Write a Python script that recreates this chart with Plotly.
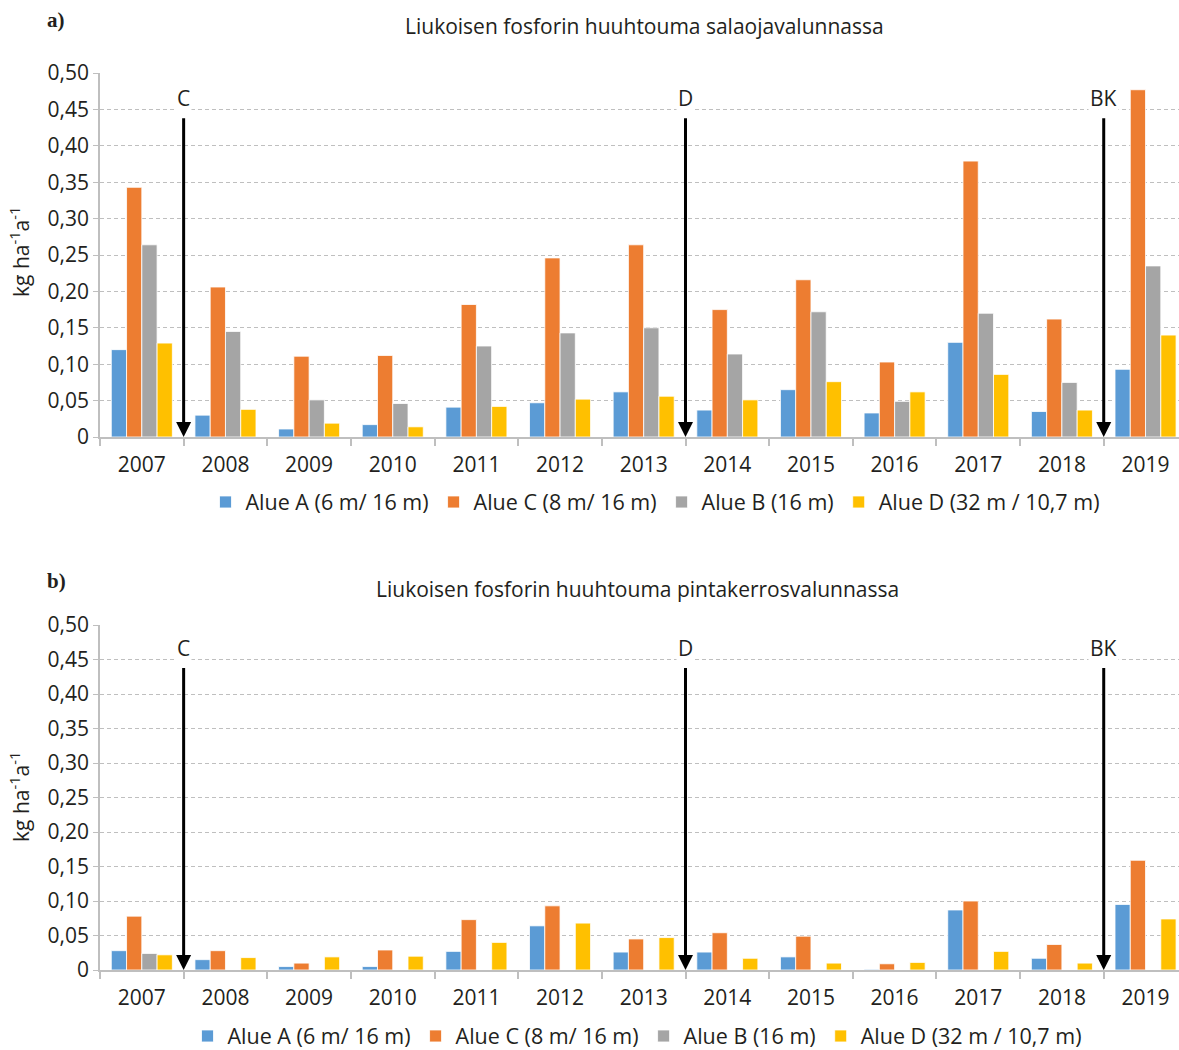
import plotly.graph_objects as go

years = [str(y) for y in range(2007, 2020)]
series_names = ["Alue A (6 m/ 16 m)", "Alue C (8 m/ 16 m)", "Alue B (16 m)", "Alue D (32 m / 10,7 m)"]
colors = ["#5B9BD5", "#ED7D31", "#A5A5A5", "#FFC000"]

# a) drainage runoff (salaojavalunta)
drain_A = [0.120, 0.030, 0.011, 0.017, 0.041, 0.047, 0.062, 0.037, 0.065, 0.033, 0.130, 0.035, 0.093]
drain_C = [0.343, 0.206, 0.111, 0.112, 0.182, 0.246, 0.264, 0.175, 0.216, 0.103, 0.379, 0.162, 0.477]
drain_B = [0.264, 0.145, 0.051, 0.046, 0.125, 0.143, 0.150, 0.114, 0.172, 0.049, 0.170, 0.075, 0.235]
drain_D = [0.129, 0.038, 0.019, 0.014, 0.042, 0.052, 0.056, 0.051, 0.076, 0.062, 0.086, 0.037, 0.140]

# b) surface runoff (pintakerrosvalunta)
surf_A = [0.028, 0.015, 0.005, 0.005, 0.027, 0.064, 0.026, 0.026, 0.019, 0.001, 0.087, 0.017, 0.095]
surf_C = [0.078, 0.028, 0.010, 0.029, 0.073, 0.093, 0.045, 0.054, 0.049, 0.009, 0.100, 0.037, 0.159]
surf_B = [0.024, None, None, None, None, None, None, None, None, None, None, None, None]
surf_D = [0.022, 0.018, 0.019, 0.020, 0.040, 0.068, 0.047, 0.017, 0.010, 0.011, 0.027, 0.010, 0.074]

# events (label, year after which the change happened)
event_labels = ["C", "D", "BK"]
event_after_year = ["2007", "2013", "2018"]

tick_vals = [0, 0.05, 0.10, 0.15, 0.20, 0.25, 0.30, 0.35, 0.40, 0.45, 0.50]
tick_text = ["0", "0,05", "0,10", "0,15", "0,20", "0,25", "0,30", "0,35", "0,40", "0,45", "0,50"]

titles = ["Liukoisen fosforin huuhtouma salaojavalunnassa",
          "Liukoisen fosforin huuhtouma pintakerrosvalunnassa"]
panel_labels = ["a)", "b)"]

FONT = "Open Sans"
TXT = "#231F20"
FS = 21
W, H = 1179, 1050

fig = go.Figure()

panels = [
    ([drain_A, drain_C, drain_B, drain_D], "x", "y", "legend"),
    ([surf_A, surf_C, surf_B, surf_D], "x2", "y2", "legend2"),
]
for data, xa, ya, lg in panels:
    for vals, name, col in zip(data, series_names, colors):
        fig.add_trace(go.Bar(
            x=years, y=vals, name=name, xaxis=xa, yaxis=ya, legend=lg,
            marker=dict(color=col, line=dict(color="rgba(255,255,255,0.8)", width=1)),
        ))

# plot areas in pixels
top_area = (73, 437)
bot_area = (625, 970)
x_left = 100

def ydom(a):
    return [1 - a[1] / H, 1 - a[0] / H]

xaxis_style = dict(
    type="category", tickson="boundaries", ticks="outside", ticklen=7,
    tickcolor="#BFBFBF", tickwidth=1.5, showline=True, linecolor="#BFBFBF", linewidth=2,
    showgrid=False, range=[-0.5, 12.4], tickfont=dict(family=FONT, size=FS, color=TXT),
    domain=[x_left / W, 1], automargin=False, ticklabelstandoff=8,
)
yaxis_style = dict(
    range=[0, 0.5], tickvals=tick_vals, ticktext=tick_text, ticks="outside", ticklen=5,
    tickcolor="#BFBFBF", showline=True, linecolor="#BFBFBF", linewidth=1.5,
    showgrid=True, gridcolor="#BFBFBF", griddash="4px,3px", gridwidth=1,
    zeroline=False, tickfont=dict(family=FONT, size=FS, color=TXT), automargin=False,
)

fig.update_layout(
    width=W, height=H,
    margin=dict(l=0, r=0, t=0, b=0, autoexpand=False),
    paper_bgcolor="white", plot_bgcolor="white",
    barmode="group", bargap=0.27, bargroupgap=0,
    xaxis=dict(**xaxis_style, anchor="y"),
    yaxis=dict(**yaxis_style, domain=ydom(top_area), anchor="x"),
    xaxis2=dict(**xaxis_style, anchor="y2"),
    yaxis2=dict(**yaxis_style, domain=ydom(bot_area), anchor="x2"),
    legend=dict(orientation="h", x=655 / W, xanchor="center", y=1 - 502 / H, yanchor="middle",
                font=dict(family=FONT, size=21.5, color=TXT), itemwidth=30, traceorder="normal"),
    legend2=dict(orientation="h", x=637 / W, xanchor="center", y=1 - 1036 / H, yanchor="middle",
                 font=dict(family=FONT, size=21.5, color=TXT), itemwidth=30, traceorder="normal"),
    showlegend=True,
)

annotations = []
# titles and panel labels
for title, lab, ty, ly, tx in zip(titles, panel_labels, [26, 589], [20, 581], [644, 637]):
    annotations.append(dict(text=title, x=tx / W, y=1 - ty / H, xref="paper", yref="paper",
                            showarrow=False, xanchor="center", yanchor="middle",
                            font=dict(family=FONT, size=FS, color=TXT)))
    annotations.append(dict(text="<b>" + lab + "</b>", x=56 / W, y=1 - ly / H, xref="paper", yref="paper",
                            showarrow=False, xanchor="center", yanchor="middle",
                            font=dict(family="Liberation Serif", size=21, color=TXT)))

# y axis titles
for cy in [252, 797]:
    annotations.append(dict(text="kg ha<sup>-1</sup>a<sup>-1</sup>", x=19 / W, y=1 - cy / H,
                            xref="paper", yref="paper", showarrow=False, textangle=-90,
                            xanchor="center", yanchor="middle",
                            font=dict(family=FONT, size=FS, color=TXT)))

# event arrows
for xa, ya in [("x", "y"), ("x2", "y2")]:
    for lab, yr in zip(event_labels, event_after_year):
        pos = years.index(yr) + 0.5
        annotations.append(dict(x=pos, y=0, ax=pos, ay=0.44, xref=xa, yref=ya, axref=xa, ayref=ya,
                                showarrow=True, arrowhead=2, arrowsize=1.0, arrowwidth=3,
                                arrowcolor="black", text=""))
        annotations.append(dict(x=pos, y=0.466, xref=xa, yref=ya, text=lab, showarrow=False,
                                xanchor="center", yanchor="middle", bgcolor="white",
                                font=dict(family=FONT, size=FS, color=TXT)))

fig.update_layout(annotations=annotations)

fig.write_html("out.html", config={"displayModeBar": False},
               post_script="document.body.style.margin='0px';document.body.style.overflow='hidden';")
